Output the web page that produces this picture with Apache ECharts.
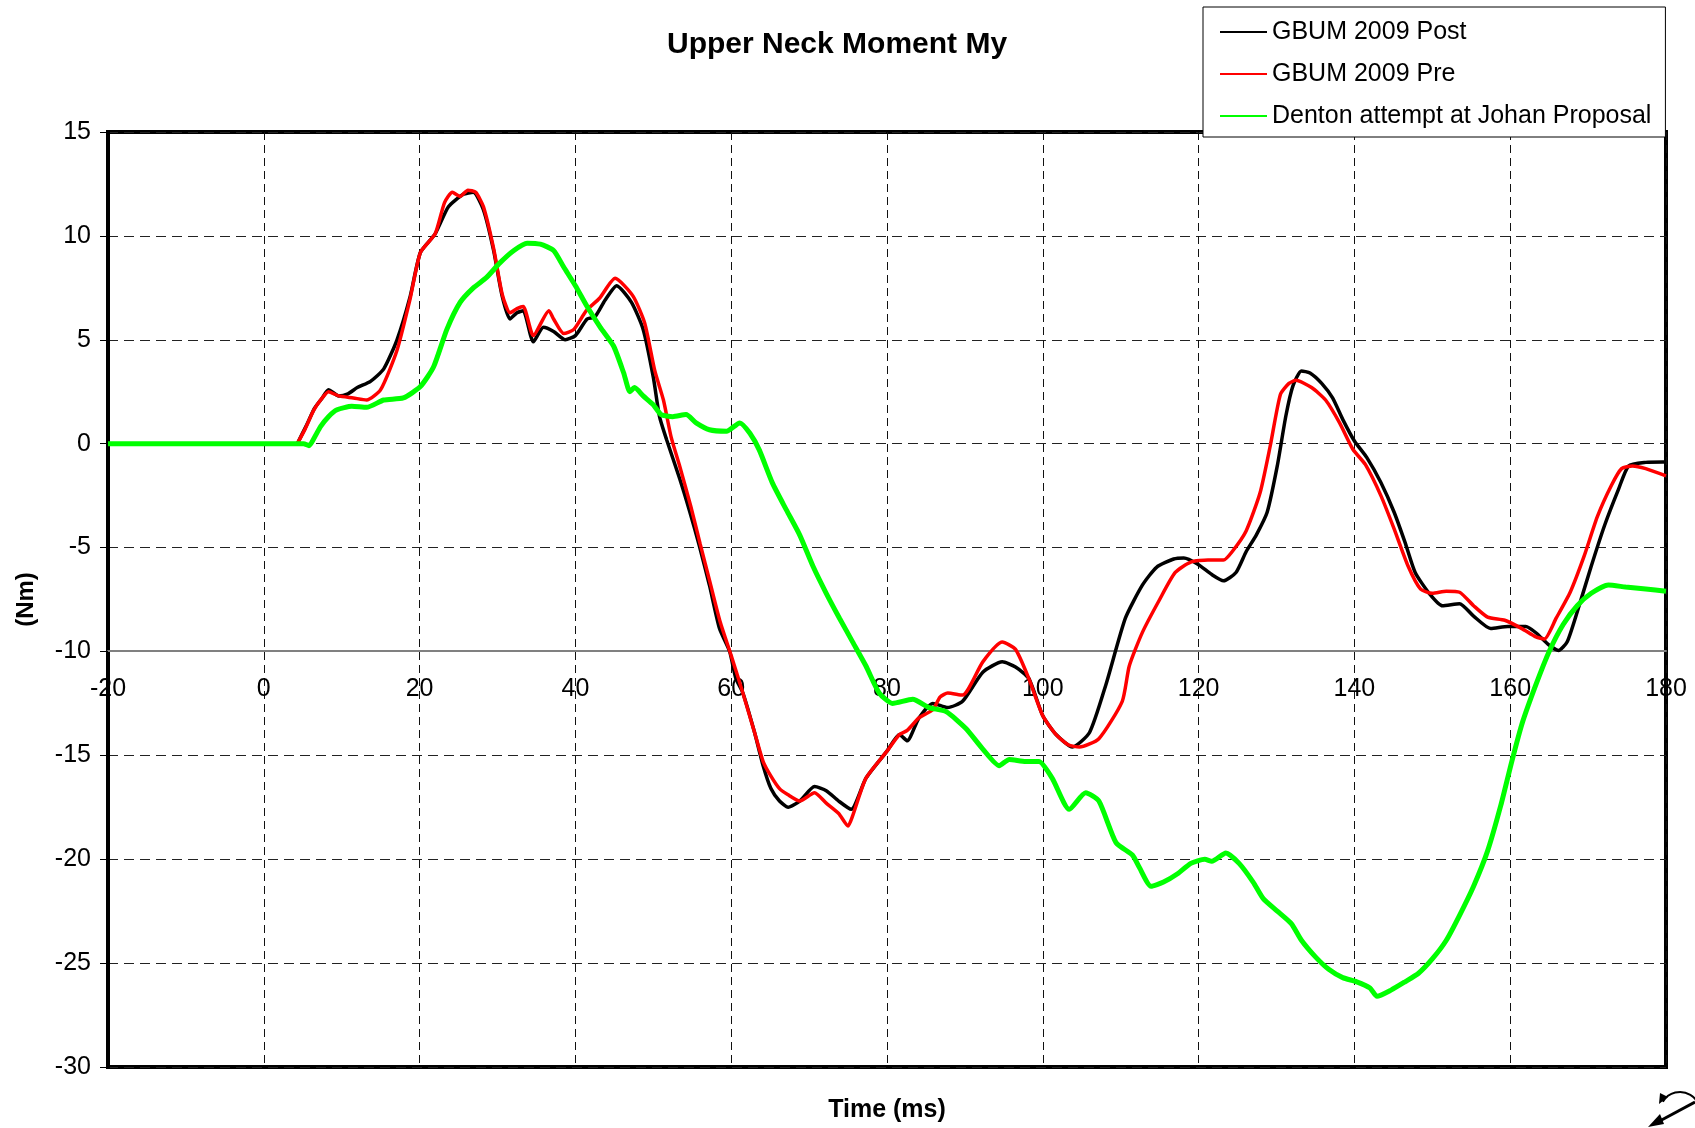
<!DOCTYPE html>
<html>
<head>
<meta charset="utf-8">
<script src="https://cdn.jsdelivr.net/npm/echarts@6/dist/echarts.min.js"></script>
<style>
html,body{margin:0;padding:0;background:#fff;}
#chart{width:1695px;height:1128px;}
</style>
</head>
<body>
<div id="chart"></div>
<script>
// ---- data ----
const seriesNames = ['GBUM 2009 Post', 'GBUM 2009 Pre', 'Denton attempt at Johan Proposal'];
const xTicks = { min: -20, max: 180, step: 20 };
const yTicks = { min: -30, max: 15, step: 5 };

const postT = [4.3,5.5,6.5,7.5,8.3,9.6,10.8,12,13.7,15.4,17.1,18.8,20.1,22,23.7,25.6,26.9,28.2,29.5,30.6,31.6,32.5,33.3,34.6,35.9,37.2,38.7,40,41.5,42.5,43.8,45.3,47.2,48.7,50,50.8,51.7,53.4,54.7,55.9,57.2,58.5,59.8,60.6,61.5,63,64.1,65.1,66.2,67.3,68.8,70.7,72.2,73.8,75.4,77.3,80,81.6,82.6,84.1,85.9,87.8,89.7,92.3,94.8,96.5,98.2,100,101.7,103.8,106,108.1,110.6,112.8,114.6,116.8,118.1,119.9,121.7,123.2,124.8,126.1,127.4,128.8,130.1,131.2,132.1,133.2,134.3,135.8,137.2,138.5,140,141.6,143.4,145.1,146.5,147.8,149.6,151.3,153.5,155.3,157.5,159.7,162,163.3,165,166.2,167.3,168.6,170.4,172.1,173.9,175.2,177.4,179.6,180];
const postV = [0,0.9,1.7,2.2,2.6,2.3,2.4,2.7,3.0,3.6,5.0,7.1,9.2,10.1,11.4,12.0,12.1,11.25,9.3,7.1,6.0,6.3,6.4,4.9,5.6,5.4,5.0,5.2,6.0,6.1,6.9,7.6,6.8,5.5,3.2,1.3,0.2,-1.7,-3.3,-4.9,-6.8,-8.9,-10.0,-11.3,-12.0,-13.9,-15.5,-16.6,-17.2,-17.5,-17.2,-16.5,-16.7,-17.2,-17.6,-16.1,-14.8,-14.0,-14.3,-13.2,-12.5,-12.7,-12.4,-11.0,-10.5,-10.75,-11.3,-13.1,-14.0,-14.6,-13.9,-11.6,-8.4,-6.8,-5.95,-5.55,-5.5,-5.8,-6.3,-6.6,-6.2,-5.2,-4.4,-3.3,-1.07,1.33,2.77,3.5,3.4,2.9,2.2,1.17,0.13,-0.67,-1.87,-3.3,-4.75,-6.2,-7.2,-7.8,-7.7,-8.3,-8.9,-8.8,-8.8,-9.1,-9.7,-9.95,-9.55,-8.1,-5.9,-3.95,-2.2,-1.07,-0.9,-0.88,-0.88];

const preT = [4.3,5.3,6.4,7.5,8.3,9.6,11.5,13.2,15,17.1,18.8,20.1,22,23.2,24.2,25.2,26.2,27.2,28.2,29.5,30.6,31.6,32.5,33.3,34.6,36.6,37.2,38.5,39.8,41.4,43.1,45.1,47.4,48.9,50.2,51.3,52.3,53.4,54.8,56,57.3,58.6,60,61.5,63,64.1,65.1,66.2,67.3,68.8,70.7,72.2,73.8,75,75.6,77.3,80,81.6,82.6,84.1,85.9,86.8,87.8,89.7,92.3,94.8,96.5,98.2,100,101.7,103.3,104.7,107.2,110.2,111.1,112.8,115,117,119,121.2,123.2,124.3,126.1,127.9,129.2,130.5,131.6,132.5,134.5,136.3,138.1,139.8,141.4,143.4,145.1,146.9,148.5,150,151.8,153.5,155.3,157.1,159.3,161.5,163.3,164.4,165.9,167.7,169.5,171.2,173,174.3,175.7,177.4,180];
const preV = [0,0.7,1.6,2.2,2.5,2.3,2.2,2.1,2.6,4.5,7.0,9.2,10.1,11.6,12.1,11.9,12.2,12.1,11.4,9.4,7.2,6.3,6.5,6.6,5.2,6.4,6.0,5.3,5.5,6.4,7.0,7.96,7.1,5.8,3.5,2.1,0.3,-1.1,-3.0,-4.8,-6.7,-8.6,-10.2,-12.0,-13.9,-15.3,-16.0,-16.6,-16.9,-17.2,-16.8,-17.3,-17.8,-18.4,-17.9,-16.1,-14.8,-14.0,-13.8,-13.2,-12.8,-12.2,-12.0,-12.1,-10.5,-9.55,-9.9,-11.3,-13.1,-14.0,-14.5,-14.6,-14.2,-12.4,-10.7,-9.07,-7.5,-6.2,-5.7,-5.6,-5.6,-5.2,-4.2,-2.35,-0.1,2.37,2.9,3.05,2.7,2.1,1.0,-0.27,-1.0,-2.5,-4.1,-5.9,-7.0,-7.2,-7.1,-7.15,-7.8,-8.35,-8.5,-8.9,-9.3,-9.4,-8.4,-7.15,-5.4,-3.5,-2.0,-1.2,-1.07,-1.2,-1.55];

const dentonT = [-20,5.1,5.8,6.5,7.3,8.3,9.4,11.3,13.2,15.4,17.9,20.1,21.8,23.5,25.2,26.9,28.6,30.3,32.1,33.8,35.5,37.2,38.5,40,41.5,43.2,44.9,46.2,47,47.6,48.7,50,51,52.5,54.2,55.5,57.2,59.4,61.1,62.4,63.6,65.3,67.1,68.8,70.5,72.2,73.9,75.6,77.3,79,80.7,83.3,85.4,87.6,90.1,92.3,94.4,95.7,97.8,99.5,101.2,103.4,105.5,107.2,109.4,111.5,112.4,113.9,115.5,117.3,119,120.8,121.7,123.5,125.2,127,128.3,130.1,131.9,133.2,135,136.7,138.5,140.3,142,142.9,144.7,146.5,148.2,150,151.8,153.5,155.3,157.1,158.8,160.2,161.5,163.3,165,166.8,168.6,170.4,172.6,174.8,177.4,180];
const dentonV = [0,0,-0.1,0.3,0.83,1.3,1.63,1.8,1.75,2.1,2.2,2.75,3.7,5.5,6.8,7.5,8.0,8.7,9.3,9.65,9.6,9.3,8.5,7.6,6.6,5.6,4.7,3.4,2.5,2.7,2.3,1.87,1.4,1.3,1.4,1.0,0.67,0.6,1.0,0.5,-0.3,-1.9,-3.2,-4.4,-5.9,-7.2,-8.4,-9.55,-10.7,-12.0,-12.5,-12.3,-12.7,-12.9,-13.7,-14.7,-15.5,-15.2,-15.3,-15.3,-16.1,-17.6,-16.8,-17.2,-19.2,-19.8,-20.4,-21.3,-21.1,-20.7,-20.2,-20.0,-20.1,-19.7,-20.2,-21.1,-21.9,-22.5,-23.1,-23.9,-24.7,-25.3,-25.7,-25.9,-26.2,-26.6,-26.3,-25.9,-25.5,-24.8,-23.9,-22.7,-21.3,-19.6,-17.4,-15.3,-13.5,-11.6,-10.0,-8.7,-7.8,-7.2,-6.8,-6.9,-7.0,-7.1];

function zip(a, b) { return a.map((t, i) => [t, b[i]]); }

// ---- layout ----
const FONT = '"Liberation Sans", Arial, sans-serif';
const gridLeft = 108, gridTop = 132, gridW = 1558, gridH = 937;
const xAxisAt = -10; // horizontal axis line crosses y = -10
const xAxisOffset = -gridH * (xAxisAt - yTicks.min) / (yTicks.max - yTicks.min);

const nLines = (yTicks.max - yTicks.min) / yTicks.step + 1;
const hLineColors = [];
for (let i = 0; i < nLines; i++) {
  const v = yTicks.min + i * yTicks.step;
  hLineColors.push(v === xAxisAt ? 'rgba(0,0,0,0)' : '#222');
}

const chart = echarts.init(document.getElementById('chart'), null, { renderer: 'canvas' });
chart.setOption({
  backgroundColor: '#fff',
  animation: false,
  textStyle: { fontFamily: FONT },
  title: {
    text: 'Upper Neck Moment My',
    left: 667, top: 30, padding: 0,
    textStyle: { fontFamily: FONT, fontSize: 30, fontWeight: 'bold', color: '#000' }
  },
  legend: {
    orient: 'vertical', left: 1203, top: 7,
    padding: [11, 14, 7, 17],
    icon: 'rect',
    itemWidth: 47, itemHeight: 2, itemGap: 14,
    backgroundColor: '#fff', borderColor: '#000', borderWidth: 1, borderRadius: 0,
    textStyle: { fontFamily: FONT, fontSize: 25, color: '#000', lineHeight: 28 },
    data: seriesNames,
    z: 10
  },
  grid: {
    left: gridLeft, top: gridTop, width: gridW, height: gridH,
    show: true, borderColor: '#000', borderWidth: 4, backgroundColor: 'transparent'
  },
  xAxis: [
    {
      type: 'value', min: xTicks.min, max: xTicks.max, interval: xTicks.step,
      position: 'bottom',
      axisLine: { show: false, onZero: false },
      axisTick: { show: false },
      axisLabel: { show: false },
      splitLine: { show: true, lineStyle: { color: '#111', type: [8, 5], width: 1 } },
      name: 'Time (ms)', nameLocation: 'middle', nameGap: 31,
      nameTextStyle: { fontFamily: FONT, fontWeight: 'bold', fontSize: 25, color: '#000', verticalAlign: 'top' }
    },
    {
      type: 'value', min: xTicks.min, max: xTicks.max, interval: xTicks.step,
      position: 'bottom', offset: xAxisOffset,
      axisLine: { show: true, onZero: false, lineStyle: { color: '#808080', width: 2 } },
      axisTick: { show: false },
      axisLabel: { fontFamily: FONT, fontSize: 25, margin: 26, color: '#000' },
      splitLine: { show: false }
    }
  ],
  yAxis: {
    type: 'value', min: yTicks.min, max: yTicks.max, interval: yTicks.step,
    axisLine: { show: true, onZero: false, lineStyle: { color: '#000', width: 4 } },
    axisTick: { show: true, length: 8, lineStyle: { color: '#000', width: 1 } },
    axisLabel: { fontFamily: FONT, fontSize: 25, margin: 17, color: '#000' },
    splitLine: { show: true, lineStyle: { color: hLineColors, type: [10, 6], width: 1 } },
    name: '(Nm)', nameLocation: 'middle', nameGap: 70,
    nameTextStyle: { fontFamily: FONT, fontWeight: 'bold', fontSize: 24, color: '#000' }
  },
  series: [
    { name: seriesNames[0], type: 'line', data: zip(postT, postV), showSymbol: false, symbol: 'none', smooth: 0.2,
      lineStyle: { color: '#000000', width: 3.5 }, itemStyle: { color: '#000000' } },
    { name: seriesNames[1], type: 'line', data: zip(preT, preV), showSymbol: false, symbol: 'none', smooth: 0.2,
      lineStyle: { color: '#ff0000', width: 3.5 }, itemStyle: { color: '#ff0000' } },
    { name: seriesNames[2], type: 'line', data: zip(dentonT, dentonV), showSymbol: false, symbol: 'none', smooth: 0.2,
      lineStyle: { color: '#00ff00', width: 5 }, itemStyle: { color: '#00ff00' } }
  ],
  graphic: [
    { type: 'line', shape: { x1: 1695, y1: 1102, x2: 1656, y2: 1123 }, style: { stroke: '#000', lineWidth: 3 } },
    { type: 'polygon', shape: { points: [[1648, 1127], [1660, 1114], [1664, 1124]] }, style: { fill: '#000' } },
    { type: 'arc', shape: { cx: 1680, cy: 1112, r: 20, startAngle: -2.6, endAngle: -0.25 }, style: { stroke: '#000', lineWidth: 2, fill: 'none' } },
    { type: 'polygon', shape: { points: [[1659, 1104], [1660, 1093], [1668, 1097]] }, style: { fill: '#000' } }
  ]
});
</script>
</body>
</html>
